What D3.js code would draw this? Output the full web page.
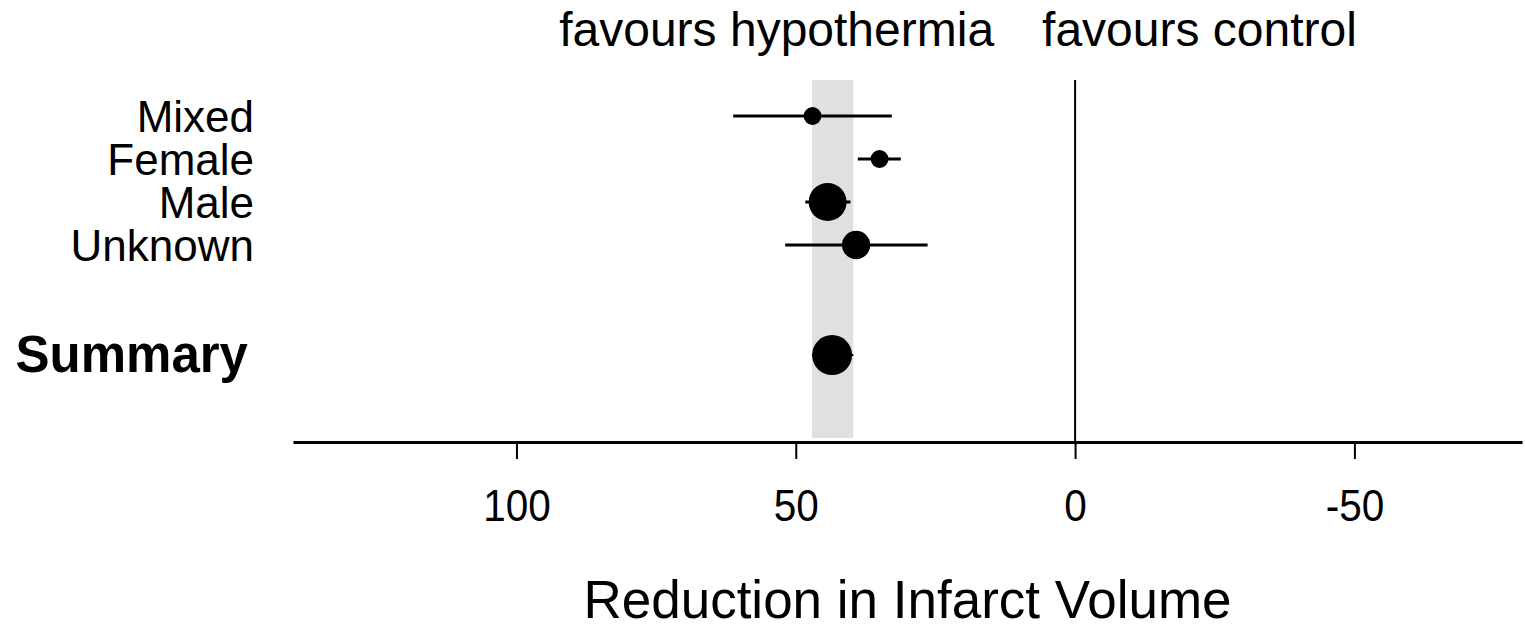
<!DOCTYPE html>
<html>
<head>
<meta charset="utf-8">
<script src="https://cdn.jsdelivr.net/npm/d3@7"></script>
<style>
  body { margin: 0; background: #fff; }
  svg { display: block; font-family: "Liberation Sans", Arial, sans-serif; }
</style>
</head>
<body>
<div id="forest"></div>
<script>
/* Data */
const groups    = ["Mixed", "Female", "Male", "Unknown"];
const estimates = [47.0, 35.0, 44.3, 39.2];
const lower     = [61.2, 38.9, 48.3, 51.9];   // left end of CI (larger reduction)
const upper     = [32.8, 31.2, 40.2, 26.4];
const weights   = [8, 8, 36, 20];

const summaryLabel = "Summary";
const summaryEst = 43.5, summaryLo = 47.1, summaryHi = 39.7, summaryWeight = 40;

const xTicks = [100, 50, 0, -50];

/* Dimensions */
const width = 1525, height = 624;
const axisY = 442;

const svg = d3.select("#forest")
    .append("svg")
    .attr("width", width)
    .attr("height", height);

/* Scales: x runs backwards, positive reduction on the left */
const xScale = d3.scaleLinear()
    .domain([140, -80])
    .range([293, 1522]);

// row index -> y; summary sits lower down
const yScale = d3.scaleLinear()
    .domain([0, 1])
    .range([116, 159]);
const summaryRow = 5.56;

const rScale = d3.scaleSqrt()
    .domain([0, 40])
    .range([0, 20]);

const rows = groups.map((g, i) => ({
    group: g, est: estimates[i], lo: lower[i], hi: upper[i], w: weights[i], row: i
}));

/* Grey band = summary confidence interval */
svg.append("rect")
    .attr("x", xScale(summaryLo))
    .attr("y", 80)
    .attr("width", xScale(summaryHi) - xScale(summaryLo))
    .attr("height", 438 - 80)
    .attr("fill", "#e0e0e0");

/* Line of no effect */
svg.append("line")
    .attr("x1", xScale(0)).attr("x2", xScale(0))
    .attr("y1", 80).attr("y2", axisY)
    .attr("stroke", "#000")
    .attr("stroke-width", 2);

/* Axis */
const xAxis = d3.axisBottom(xScale)
    .tickValues(xTicks)
    .tickFormat(d => String(d))
    .tickSize(17)
    .tickPadding(30)
    .tickSizeOuter(0);

const xGroup = svg.append("g")
    .attr("transform", `translate(0, ${axisY})`)
    .call(xAxis);

xGroup.select(".domain")
    .attr("stroke-width", 3);
xGroup.selectAll(".tick line")
    .attr("stroke-width", 2);
xGroup.selectAll(".tick text")
    .attr("font-size", 45)
    .attr("font-family", "Liberation Sans, Arial, sans-serif")
    .attr("fill", "#000")
    .attr("dy", null)
    .attr("y", 79)
    .each(function() {
        const n = this.getComputedTextLength();
        d3.select(this)
            .attr("textLength", n * 0.9)
            .attr("lengthAdjust", "spacingAndGlyphs");
    });

/* Confidence intervals and points */
const g = svg.append("g").attr("class", "studies");

g.selectAll("line")
    .data(rows)
    .join("line")
    .attr("x1", d => xScale(d.lo))
    .attr("x2", d => xScale(d.hi))
    .attr("y1", d => yScale(d.row))
    .attr("y2", d => yScale(d.row))
    .attr("stroke", "#000")
    .attr("stroke-width", 3);

g.selectAll("circle")
    .data(rows)
    .join("circle")
    .attr("cx", d => xScale(d.est))
    .attr("cy", d => yScale(d.row))
    .attr("r", d => rScale(d.w))
    .attr("fill", "#000");

g.selectAll("text")
    .data(rows)
    .join("text")
    .attr("x", 254)
    .attr("y", d => yScale(d.row) + 16)
    .attr("text-anchor", "end")
    .attr("font-size", 44)
    .text(d => d.group);

/* Summary */
const sy = yScale(summaryRow);
svg.append("line")
    .attr("x1", xScale(summaryLo)).attr("x2", xScale(summaryHi))
    .attr("y1", sy).attr("y2", sy)
    .attr("stroke", "#000")
    .attr("stroke-width", 2);
svg.append("circle")
    .attr("cx", xScale(summaryEst))
    .attr("cy", sy)
    .attr("r", rScale(summaryWeight))
    .attr("fill", "#000");
svg.append("text")
    .attr("x", 248)
    .attr("y", sy + 17)
    .attr("text-anchor", "end")
    .attr("font-size", 51)
    .attr("font-weight", "bold")
    .text(summaryLabel);

/* Direction labels */
svg.append("text")
    .attr("x", xScale(0) - 81)
    .attr("y", 46)
    .attr("text-anchor", "end")
    .attr("font-size", 48)
    .text("favours hypothermia");
svg.append("text")
    .attr("x", xScale(0) - 33)
    .attr("y", 46)
    .attr("text-anchor", "start")
    .attr("font-size", 48)
    .text("favours control");

/* Axis title */
svg.append("text")
    .attr("x", (xScale.range()[0] + xScale.range()[1]) / 2)
    .attr("y", 618)
    .attr("text-anchor", "middle")
    .attr("font-size", 53)
    .text("Reduction in Infarct Volume");
</script>
</body>
</html>
